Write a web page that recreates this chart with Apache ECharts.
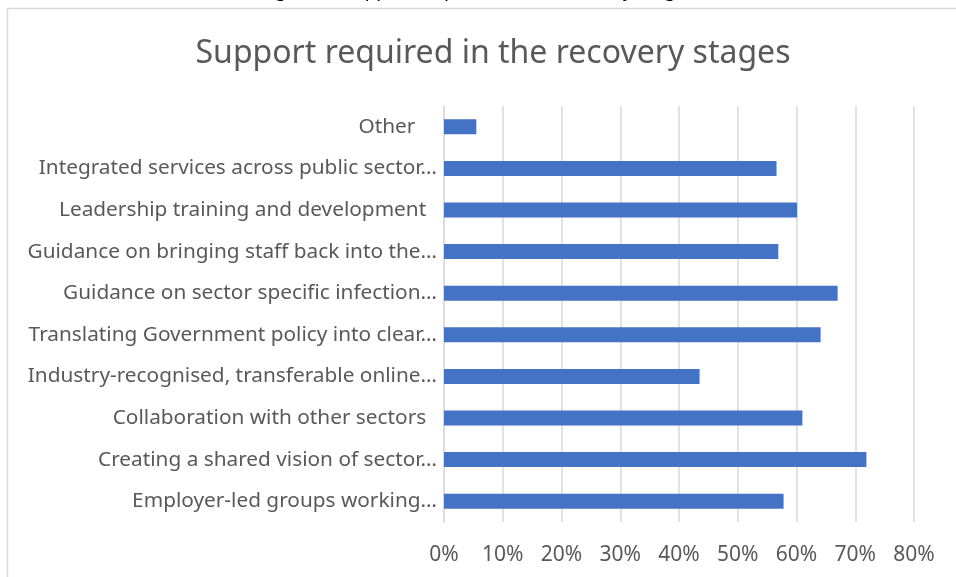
<!DOCTYPE html>
<html>
<head>
<meta charset="utf-8">
<script src="https://cdn.jsdelivr.net/npm/echarts@6/dist/echarts.min.js"></script>
<style>
  html, body { margin: 0; padding: 0; background: #fff; }
  #main { width: 956px; height: 577px; }
</style>
</head>
<body>
<div id="main"></div>
<script>
// categories bottom -> top (category axis on y starts at the bottom)
const categories = [
  'Employer-led groups working…',
  'Creating a shared vision of sector…',
  'Collaboration with other sectors  ',
  'Industry-recognised, transferable online…',
  'Translating Government policy into clear…',
  'Guidance on sector specific infection…',
  'Guidance on bringing staff back into the…',
  'Leadership training and development  ',
  'Integrated services across public sector…',
  'Other    '
];
const values = [57.8, 71.9, 61.0, 43.5, 64.1, 67.0, 56.9, 60.1, 56.6, 5.5];
const xTicks = [0, 10, 20, 30, 40, 50, 60, 70, 80];

const chart = echarts.init(document.getElementById('main'));
const font = 'Noto Sans';

const option = {
  backgroundColor: '#fff',
  animation: false,
  textStyle: { fontFamily: font },
  title: {
    text: 'Support required in the recovery stages',
    left: 488,
    textAlign: 'center',
    top: 33,
    textStyle: { color: '#595959', fontSize: 32, fontWeight: 'normal', fontFamily: font }
  },
  graphic: [
    {
      type: 'text',
      left: 'center',
      top: -19,
      style: {
        text: 'Figure 6: Support required in the recovery stages',
        fill: '#000',
        font: '19px "Noto Sans"'
      }
    },
    {
      type: 'rect',
      shape: { x: 7.5, y: 8.5, width: 1000, height: 1000 },
      style: { fill: 'none', stroke: '#d9d9d9', lineWidth: 1.5 }
    }
  ],
  grid: { left: 444, right: 42, top: 106, bottom: 55, containLabel: false },
  xAxis: {
    type: 'value',
    min: 0,
    max: 80,
    interval: 10,
    axisLine: { show: false },
    axisTick: { show: false },
    axisLabel: {
      color: '#595959',
      fontSize: 21,
      margin: 23,
      formatter: v => xTicks.indexOf(v) >= 0 ? v + '%' : ''
    },
    splitLine: { show: true, lineStyle: { color: '#d9d9d9', width: 1.5 } }
  },
  yAxis: {
    type: 'category',
    data: categories,
    axisLine: { show: true, lineStyle: { color: '#d9d9d9', width: 1.5 } },
    axisTick: { show: false },
    axisLabel: { color: '#595959', fontSize: 20.8, margin: 7, lineHeight: 26, verticalAlign: 'middle', padding: [4, 0, 0, 0] }
  },
  series: [{
    type: 'bar',
    data: values,
    barWidth: 15,
    itemStyle: { color: '#4472C4' }
  }]
};
chart.setOption(option);
</script>
</body>
</html>
